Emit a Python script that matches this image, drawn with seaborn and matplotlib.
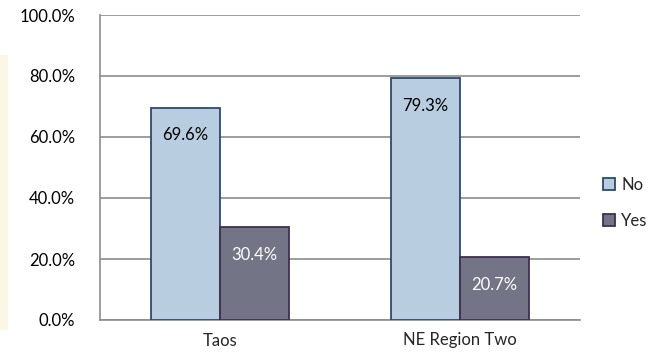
import matplotlib
matplotlib.use("Agg")
import matplotlib.pyplot as plt
import matplotlib.patches as mpatches
from matplotlib.ticker import PercentFormatter, FixedLocator
import seaborn as sns
import pandas as pd

categories = ["Taos", "NE Region Two"]
series = ["No", "Yes"]
no_values = [69.6, 79.3]
yes_values = [30.4, 20.7]
y_ticks = [0, 20, 40, 60, 80, 100]

df = pd.DataFrame({
    "Region": categories * 2,
    "Answer": ["No"] * len(categories) + ["Yes"] * len(categories),
    "Pct": no_values + yes_values,
})

sns.set_style("white")
plt.rcParams["font.family"] = ["Lato", "DejaVu Sans"]
FS = 12

fig = plt.figure(figsize=(6.58, 3.62), dpi=100)
fig.patches.append(mpatches.Rectangle((0, 1 - 330 / 362), 8 / 658, 275 / 362,
                                      transform=fig.transFigure, facecolor="#FBF7E4",
                                      edgecolor="none", zorder=0))
ax = fig.add_axes([100 / 658, 1 - 320 / 362, 480 / 658, 305 / 362])

fills = {"No": "#B9CDE0", "Yes": "#747487"}
edges = {"No": "#2C4A6E", "Yes": "#3E3050"}
sns.barplot(data=df, x="Region", y="Pct", hue="Answer", order=categories,
            hue_order=series, palette=fills, width=0.575, ax=ax, legend=False,
            saturation=1, zorder=3)

for cont, name in zip(ax.containers, series):
    for p in cont:
        p.set_edgecolor(edges[name])
        p.set_linewidth(1.3)
        h = p.get_height()
        ax.annotate(f"{h:.1f}%", (p.get_x() + p.get_width() / 2, h),
                    xytext=(0, -20), textcoords="offset points",
                    ha="center", va="center", fontsize=FS,
                    color="black" if name == "No" else "white", zorder=5)

ax.set_ylim(0, 100)
ax.set_xlim(-0.5, 1.5)
ax.set_yticks(y_ticks)
ax.yaxis.set_major_formatter(PercentFormatter(decimals=1))
ax.yaxis.grid(True, color="#8C8C8C", linewidth=1.2, zorder=0)
ax.set_axisbelow(True)
ax.set_xlabel("")
ax.set_ylabel("")

for s in ["top", "right"]:
    ax.spines[s].set_visible(False)
for s in ["left", "bottom"]:
    ax.spines[s].set_color("#8C8C8C")
    ax.spines[s].set_linewidth(1.2)

ax.tick_params(axis="y", which="major", length=8, width=1.2, color="#8C8C8C",
               direction="out", labelsize=FS, labelcolor="black", pad=10)
ax.tick_params(axis="x", which="major", length=0, labelsize=FS, pad=9)
ax.xaxis.set_minor_locator(FixedLocator([-0.5, 0.5, 1.5]))
ax.tick_params(axis="x", which="minor", length=6, width=1.2, color="#8C8C8C",
               direction="out")

handles = [mpatches.Patch(facecolor=fills[n], edgecolor=edges[n], linewidth=1.3, label=n)
           for n in series]
fig.legend(handles=handles, loc="center left", bbox_to_anchor=(588 / 658, 1 - 203 / 362),
           frameon=False, fontsize=FS, handlelength=0.7, handleheight=0.7,
           handletextpad=0.4, labelspacing=1.2)

fig.savefig("out.png", dpi=100)
